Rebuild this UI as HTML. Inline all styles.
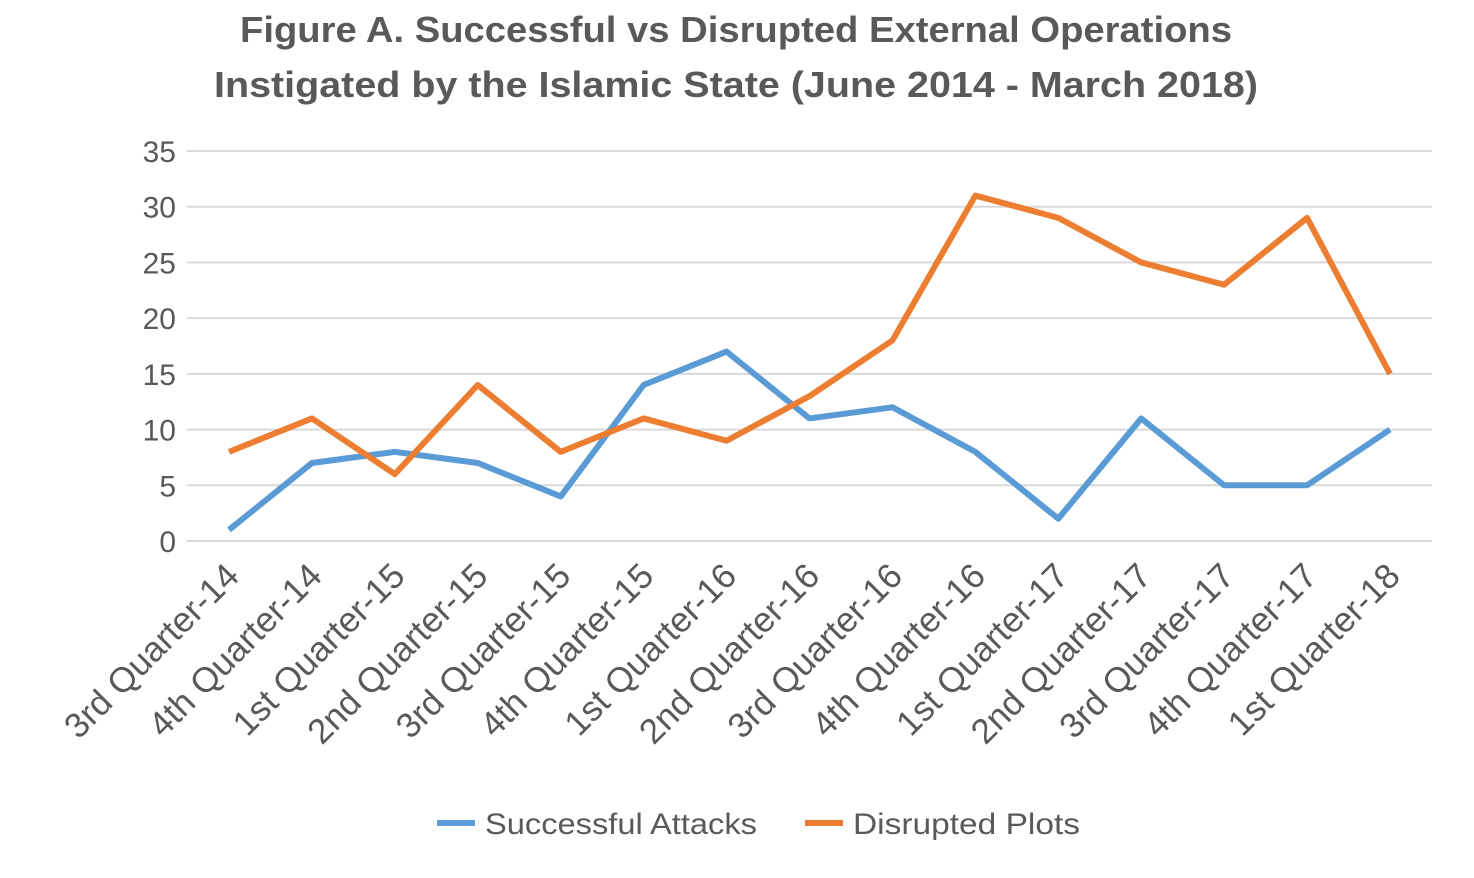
<!DOCTYPE html>
<html>
<head>
<meta charset="utf-8">
<style>
  html, body { margin: 0; padding: 0; background: #ffffff; }
  svg { display: block; font-family: "Liberation Sans", sans-serif; }
</style>
</head>
<body>
<svg id="chart" width="1474" height="878" viewBox="0 0 1474 878" xmlns="http://www.w3.org/2000/svg">
  <g>
    <text x="736" y="42" text-anchor="middle" font-size="36" font-weight="bold" fill="#595959" textLength="992" lengthAdjust="spacingAndGlyphs">Figure A. Successful vs Disrupted External Operations</text>
    <text x="736" y="97" text-anchor="middle" font-size="36" font-weight="bold" fill="#595959" textLength="1044" lengthAdjust="spacingAndGlyphs">Instigated by the Islamic State (June 2014 - March 2018)</text>
  </g>
  <g id="grid"></g>
  <g id="yticks"></g>
  <g id="xticks"></g>
  <g id="series"></g>
  <g>
    <g>
      <line x1="437" y1="823" x2="475" y2="823" stroke="#5B9BD5" stroke-width="6"/>
      <text x="485" y="834" font-size="30" fill="#595959" textLength="272" lengthAdjust="spacingAndGlyphs">Successful Attacks</text>
    </g>
    <g>
      <line x1="805" y1="823" x2="843" y2="823" stroke="#ED7D31" stroke-width="6"/>
      <text x="853" y="834" font-size="30" fill="#595959" textLength="227" lengthAdjust="spacingAndGlyphs">Disrupted Plots</text>
    </g>
  </g>
</svg>
<script>
const categories = ["3rd Quarter-14","4th Quarter-14","1st Quarter-15","2nd Quarter-15","3rd Quarter-15","4th Quarter-15","1st Quarter-16","2nd Quarter-16","3rd Quarter-16","4th Quarter-16","1st Quarter-17","2nd Quarter-17","3rd Quarter-17","4th Quarter-17","1st Quarter-18"];
const successfulAttacks = [1,7,8,7,4,14,17,11,12,8,2,11,5,5,10];
const disruptedPlots = [8,11,6,14,8,11,9,13,18,31,29,25,23,29,15];
const yTicks = [0,5,10,15,20,25,30,35];

const NS = "http://www.w3.org/2000/svg";
const plotLeft = 187, plotRight = 1432, yTop = 151, yBottom = 541;
const xFirst = 229, xLast = 1390;
const yMax = 35;
function xScale(i) { return xFirst + (xLast - xFirst) * i / (categories.length - 1); }
function yScale(v) { return yBottom - (yBottom - yTop) * v / yMax; }

const grid = document.getElementById('grid');
const yt = document.getElementById('yticks');
yTicks.forEach(t => {
  const l = document.createElementNS(NS, 'line');
  l.setAttribute('x1', plotLeft); l.setAttribute('x2', plotRight);
  l.setAttribute('y1', yScale(t)); l.setAttribute('y2', yScale(t));
  l.setAttribute('stroke', '#d9d9d9'); l.setAttribute('stroke-width', '2');
  
  
  grid.appendChild(l);
  const tx = document.createElementNS(NS, 'text');
  tx.setAttribute('x', 176); tx.setAttribute('y', yScale(t) + 11);
  tx.setAttribute('text-anchor', 'end'); tx.setAttribute('font-size', '30');
  tx.setAttribute('fill', '#595959');
  tx.textContent = t;
  
  
  yt.appendChild(tx);
});

const xt = document.getElementById('xticks');
categories.forEach((c, i) => {
  const tx = document.createElementNS(NS, 'text');
  const x = xScale(i) + 12, y = 578;
  tx.setAttribute('x', x); tx.setAttribute('y', y);
  tx.setAttribute('text-anchor', 'end'); tx.setAttribute('font-size', '35');
  tx.setAttribute('fill', '#595959');
  tx.setAttribute('transform', 'rotate(-45 ' + x + ' ' + y + ')');
  tx.textContent = c;
  
  
  xt.appendChild(tx);
});

const series = document.getElementById('series');
function drawLine(vals, color, name) {
  const p = document.createElementNS(NS, 'polyline');
  p.setAttribute('points', vals.map((v, i) => xScale(i) + ',' + yScale(v)).join(' '));
  p.setAttribute('fill', 'none'); p.setAttribute('stroke', color);
  p.setAttribute('stroke-width', '6'); p.setAttribute('stroke-linejoin', 'round');
  
  
  series.appendChild(p);
}
drawLine(successfulAttacks, '#5B9BD5', 'successful-attacks-line');
drawLine(disruptedPlots, '#ED7D31', 'disrupted-plots-line');
</script>
</body>
</html>
